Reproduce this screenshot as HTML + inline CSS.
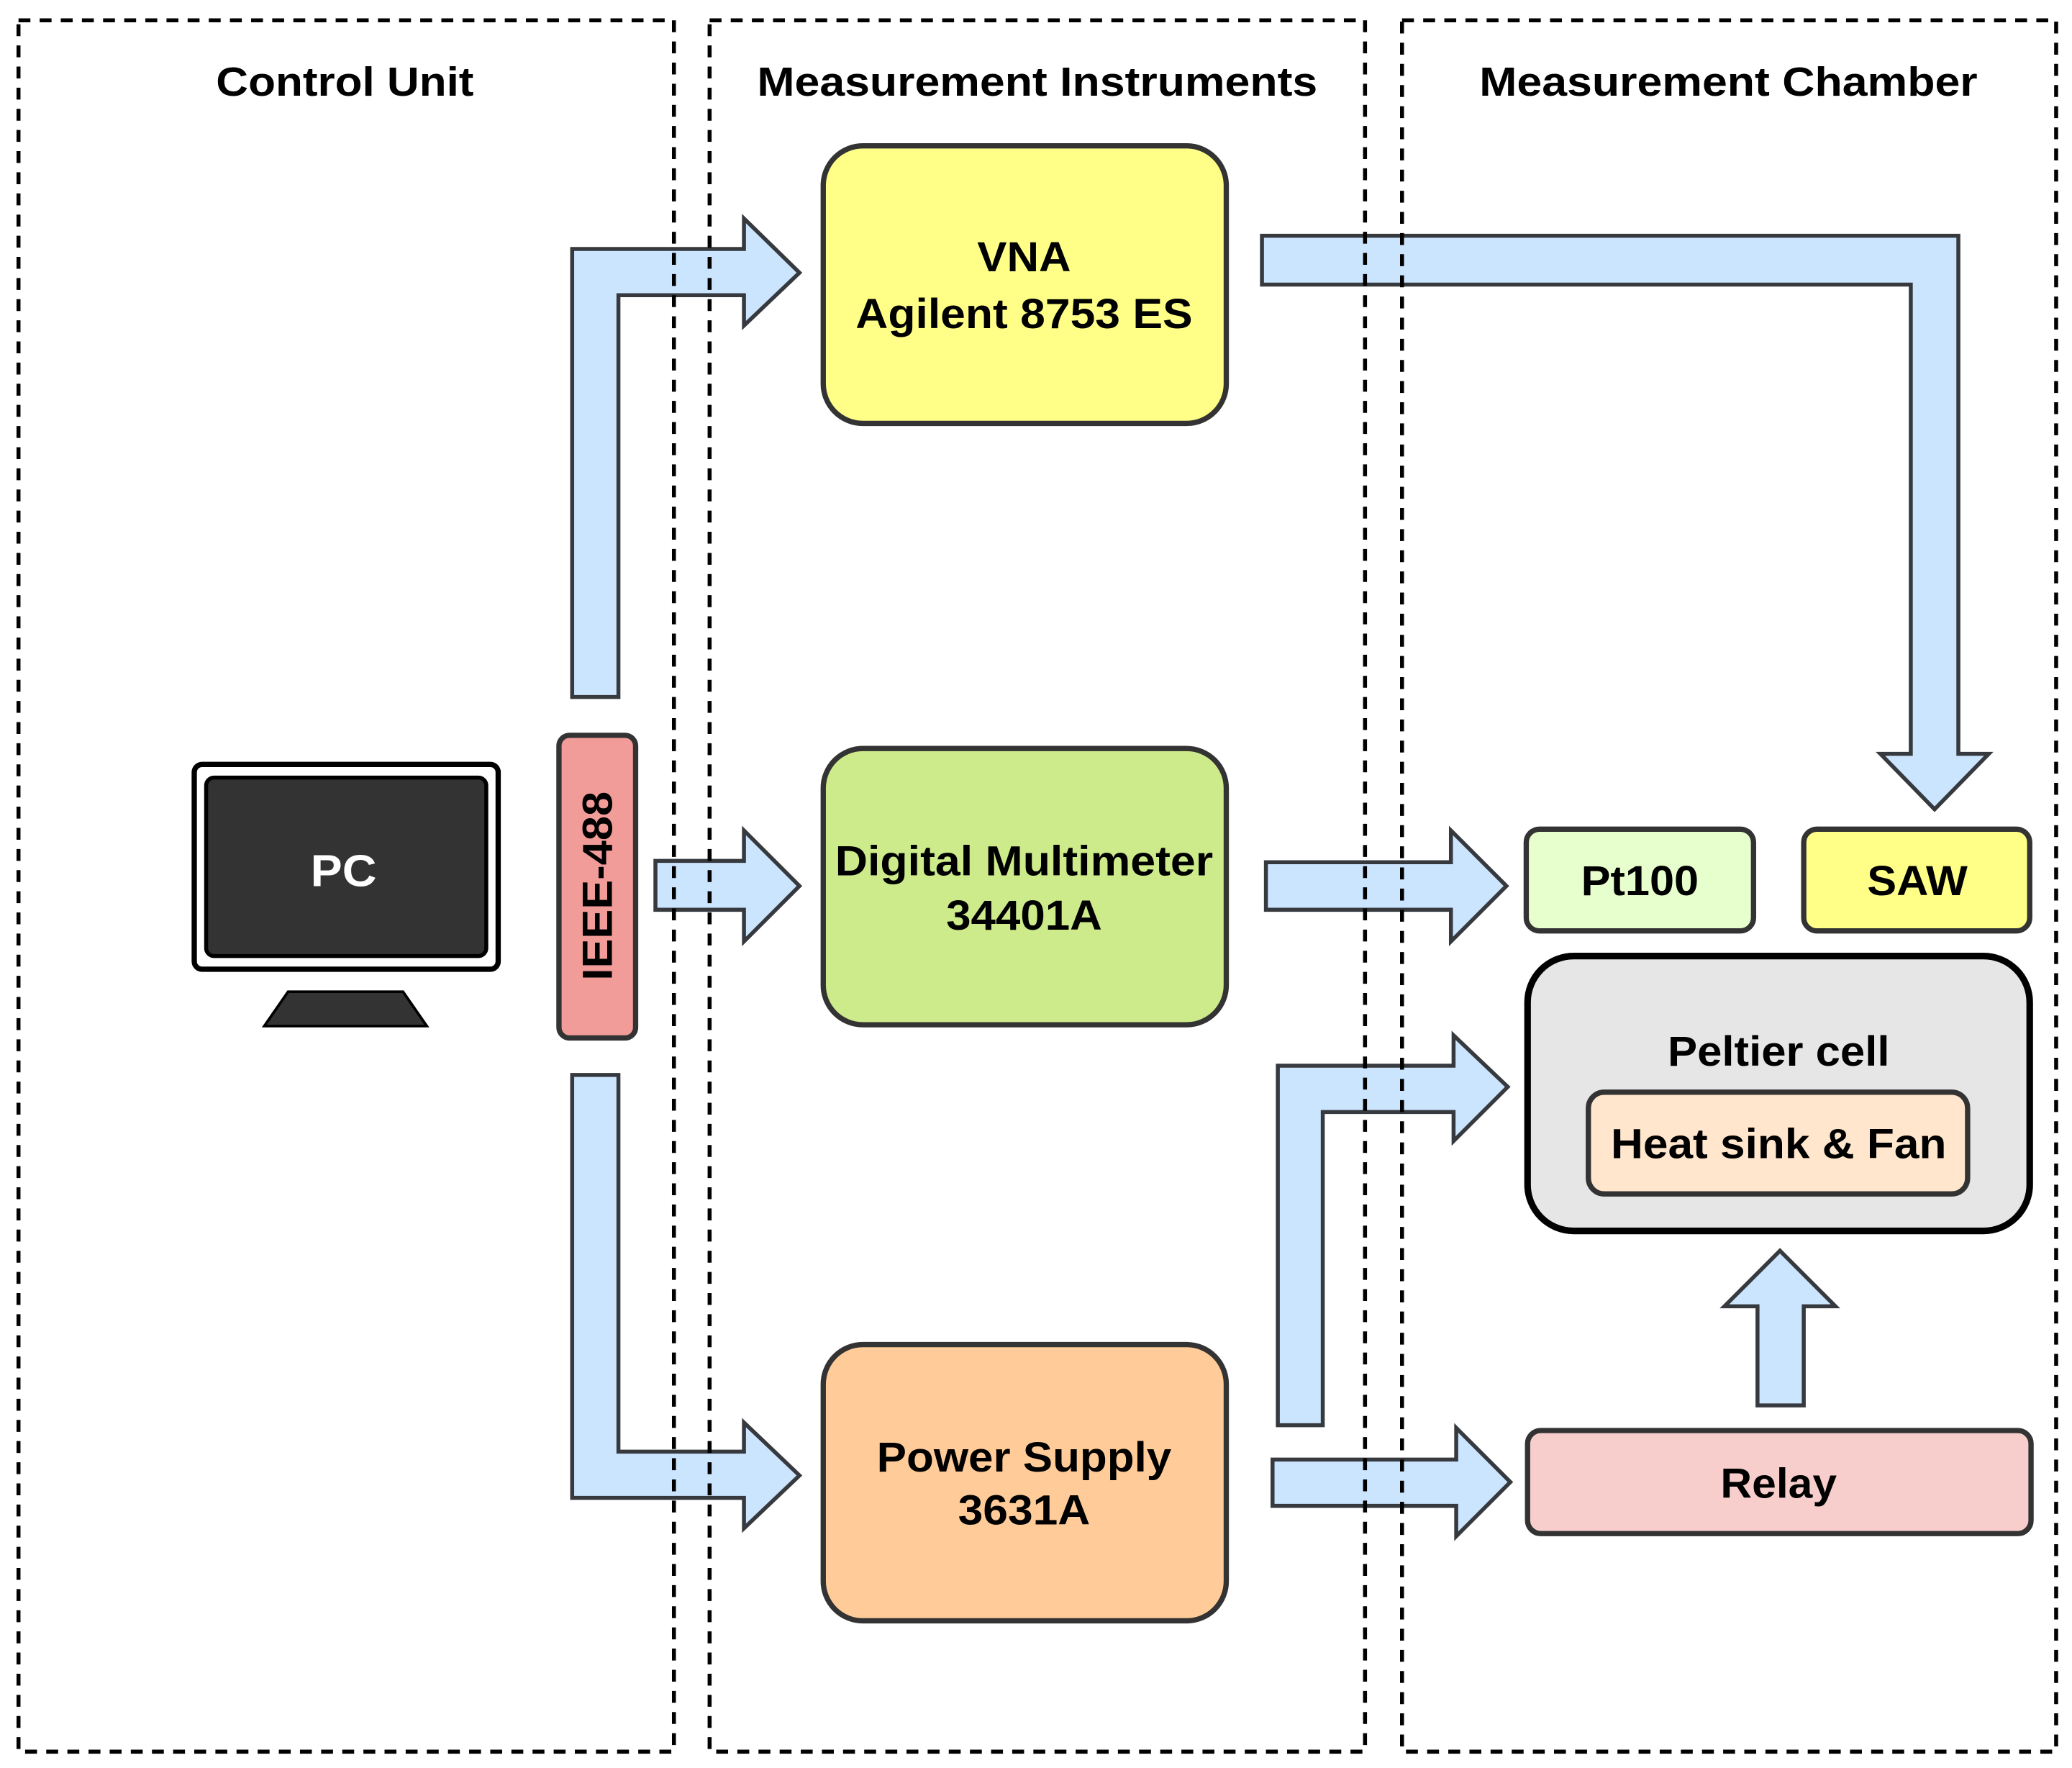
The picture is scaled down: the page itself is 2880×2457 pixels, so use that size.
<!DOCTYPE html>
<html><head><meta charset="utf-8"><style>
html,body{margin:0;padding:0;background:#fff;}
svg{display:block;}
text{font-family:"Liberation Sans",Arial,sans-serif;font-weight:bold;fill:#000;}
</style></head><body>
<svg width="2880" height="2457" viewBox="0 0 1568 1337" xmlns="http://www.w3.org/2000/svg">
<rect width="1568" height="1337" fill="#fff"/>
<g fill="#cce5ff" stroke="#36393d" stroke-width="3" stroke-linejoin="miter">
<polygon points="433,527 433,188 563,188 563,165 605,206 563,246 563,223 468,223 468,527"/>
<polygon points="496,651 563,651 563,628 605,670 563,712 563,688 496,688"/>
<polygon points="433,813 468,813 468,1098 563,1098 563,1076 605,1116 563,1156 563,1133 433,1133"/>
<polygon points="955,178 1482,178 1482,570 1505,570 1464,612 1423,570 1446,570 1446,215 955,215"/>
<polygon points="958,652 1098,652 1098,628 1140,670 1098,712 1098,688 958,688"/>
<polygon points="967,1078 967,806 1100,806 1100,783 1141,822 1100,863 1100,841 1001,841 1001,1078"/>
<polygon points="963,1104 1102,1104 1102,1080 1143,1121 1102,1162 1102,1139 963,1139"/>
<polygon points="1330,1063 1330,988 1305,988 1347,946 1389,988 1365,988 1365,1063"/>
</g>
<g fill="none" stroke="#000" stroke-width="3" stroke-dasharray="9,7">
<rect x="14" y="15" width="496" height="1310"/>
<rect x="537" y="15" width="496" height="1310"/>
<rect x="1061" y="15" width="495" height="1310"/>
</g>
<g font-size="31" text-anchor="middle" lengthAdjust="spacingAndGlyphs">
<text x="261" y="72" textLength="195" lengthAdjust="spacingAndGlyphs">Control Unit</text>
<text x="785" y="72" textLength="424" lengthAdjust="spacingAndGlyphs">Measurement Instruments</text>
<text x="1308" y="72" textLength="377" lengthAdjust="spacingAndGlyphs">Measurement Chamber</text>
</g>
<g stroke="#333" stroke-width="4">
<rect x="623" y="110" width="305" height="210" rx="30" fill="#ffff88"/>
<rect x="623" y="566" width="305" height="209" rx="30" fill="#cdeb8b"/>
<rect x="623" y="1017" width="305" height="209" rx="30" fill="#ffcc99"/>
<rect x="1155" y="627" width="172" height="77" rx="10" fill="#e6ffcc"/>
<rect x="1365" y="627" width="171" height="77" rx="10" fill="#ffff88"/>
<rect x="1156" y="1082" width="381" height="78" rx="10" fill="#f8cecc"/>
<rect x="423" y="556" width="58" height="229" rx="8" fill="#f19c99"/>
</g>
<rect x="1156" y="723" width="380" height="208" rx="35" fill="#e6e6e6" stroke="#000" stroke-width="5"/>
<rect x="1202" y="826" width="287" height="77" rx="12" fill="#ffe6cc" stroke="#333" stroke-width="4"/>
<g font-size="32" text-anchor="middle">
<text x="775" y="205" textLength="71" lengthAdjust="spacingAndGlyphs">VNA</text>
<text x="775" y="248" textLength="255" lengthAdjust="spacingAndGlyphs">Agilent 8753 ES</text>
<text x="775" y="662" textLength="286" lengthAdjust="spacingAndGlyphs">Digital Multimeter</text>
<text x="775" y="703" textLength="118" lengthAdjust="spacingAndGlyphs">34401A</text>
<text x="775" y="1113" textLength="223" lengthAdjust="spacingAndGlyphs">Power Supply</text>
<text x="775" y="1153" textLength="100" lengthAdjust="spacingAndGlyphs">3631A</text>
<text x="1241" y="677" textLength="89" lengthAdjust="spacingAndGlyphs">Pt100</text>
<text x="1451" y="677" textLength="76" lengthAdjust="spacingAndGlyphs">SAW</text>
<text x="1346" y="806" textLength="168" lengthAdjust="spacingAndGlyphs">Peltier cell</text>
<text x="1346" y="876" textLength="254" lengthAdjust="spacingAndGlyphs">Heat sink &amp; Fan</text>
<text x="1346" y="1133" textLength="88" lengthAdjust="spacingAndGlyphs">Relay</text>
<text transform="translate(463,670) rotate(-90)" textLength="143" lengthAdjust="spacingAndGlyphs">IEEE-488</text>
</g>
<rect x="147" y="578" width="230" height="155" rx="6" fill="#fff" stroke="#000" stroke-width="4"/>
<rect x="156" y="588" width="212" height="135" rx="6" fill="#333" stroke="#000" stroke-width="3"/>
<polygon points="218,750 305,750 323,776 200,776" fill="#333" stroke="#000" stroke-width="2"/>
<text x="260" y="670" font-size="34" text-anchor="middle" textLength="50" lengthAdjust="spacingAndGlyphs" style="fill:#fff">PC</text>
</svg>
</body></html>
